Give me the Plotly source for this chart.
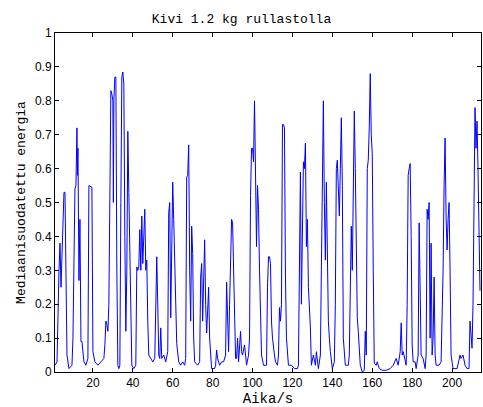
import plotly.graph_objects as go

# time (s) and median-filtered energy
t = [1, 2, 3, 3.5, 4, 4.5, 5, 5.5, 6, 6.5, 7, 8, 9.5, 10, 10.5, 11, 11.5, 12, 12.25, 12.5, 13, 13.5, 14, 14.5, 15.5, 16.5, 17.5, 18, 19.5, 20,
     21, 22.5, 24, 25.5, 26, 26.5, 27, 27.5, 28, 28.5, 29, 29.5, 30, 30.25, 30.5, 31, 31.5, 32, 32.5, 33, 33.5, 34, 34.5, 35, 35.5, 36, 36.5, 37, 37.5, 38,
     38.5, 39, 39.5, 40.5, 41.5, 42, 42.5, 43, 43.5, 44, 44.5, 45, 45.5, 46, 46.5, 47, 47.5, 48, 49, 50, 51, 51.5, 52, 52.5, 53, 53.5, 54, 54.5, 55.5, 56.5,
     57.5, 58, 58.5, 59, 59.5, 60, 60.5, 61, 61.5, 62, 63, 64, 65, 66, 66.5, 67, 67.5, 68, 68.5, 69, 69.5, 70, 70.5, 71, 72.5, 73.5, 74, 74.5, 75, 75.5,
     76, 76.5, 77, 77.5, 78, 78.5, 79, 79.5, 81, 81.5, 82, 82.5, 83.5, 84.5, 85.5, 86.5, 87, 87.5, 88, 88.5, 89, 89.5, 90, 90.5, 91, 91.5, 92, 92.5, 93,
     94, 94.5, 95, 96, 97, 98, 98.5, 99, 99.5, 100, 100.5, 101, 101.5, 102, 102.5, 103, 103.5, 104, 104.5, 105.5, 107, 107.5, 108, 108.5, 109, 109.5, 110,
     111, 111.5, 112.5, 113, 113.5, 114, 114.5, 115, 115.5, 116, 116.5, 117, 118, 119.5, 121, 122.5, 123, 123.5, 124, 124.5, 125, 125.5, 126, 126.5, 127,
     127.5, 128, 128.5, 129, 129.5, 130.5, 131.5, 132, 133, 134, 134.5, 135, 135.5, 136, 136.5, 137, 137.5, 138, 138.5, 139, 140, 141, 141.5, 142, 142.5,
     143, 143.5, 144, 144.5, 145, 145.5, 146.5, 148, 148.5, 149, 149.5, 150, 150.5, 151, 151.5, 152, 152.5, 153, 153.5, 154, 155, 156, 156.5, 157, 157.5,
     158, 158.5, 159, 159.5, 160, 160.5, 161, 162, 162.5, 163.5, 165, 167, 169, 170.5, 172, 173, 174, 174.5, 175, 175.5, 176.5, 177, 177.5, 178, 178.5,
     179, 179.5, 180, 180.5, 181.5, 182, 183, 183.5, 184, 184.5, 185.5, 186.5, 187, 187.5, 188, 188.5, 189, 189.5, 190, 190.5, 191, 191.5, 192, 193.5,
     194.5, 195.5, 196, 196.5, 197, 197.5, 198, 198.5, 199, 199.5, 200.5, 202.5, 204, 204.5, 205.5, 206.5, 207.5, 208.5, 209, 209.5, 210, 210.5, 211,
     211.5, 212, 212.5, 213, 213.5, 214]
energy = [0.02, 0.03, 0.3, 0.38, 0.25, 0.36, 0.49, 0.53, 0.53, 0.25, 0.05, 0.01, 0.02, 0.1, 0.35, 0.54, 0.55, 0.72, 0.58, 0.66, 0.27, 0.45, 0.09, 0.09, 0.03, 0.02, 0.04, 0.55, 0.545, 0.06,
          0.03, 0.02, 0.03, 0.04, 0.08, 0.15, 0.14, 0.12, 0.2, 0.55, 0.83, 0.82, 0.8, 0.5, 0.8, 0.87, 0.87, 0.3, 0.02, 0.01, 0.02, 0.5, 0.87, 0.885, 0.85, 0.4, 0.12, 0.3, 0.71, 0.53,
          0.37, 0.1, 0.02, 0.01, 0.02, 0.31, 0.3, 0.31, 0.42, 0.3, 0.46, 0.32, 0.38, 0.48, 0.3, 0.33, 0.15, 0.05, 0.04, 0.03, 0.04, 0.25, 0.34, 0.2, 0.05, 0.04, 0.13, 0.04, 0.05, 0.03,
          0.06, 0.47, 0.5, 0.16, 0.4, 0.56, 0.45, 0.3, 0.19, 0.085, 0.03, 0.02, 0.03, 0.02, 0.04, 0.575, 0.58, 0.67, 0.3, 0.15, 0.43, 0.35, 0.1, 0.03, 0.02, 0.03, 0.28, 0.32, 0.15, 0.3,
          0.39, 0.2, 0.115, 0.18, 0.25, 0.1, 0.05, 0.01, 0.01, 0.02, 0.065, 0.04, 0.02, 0.03, 0.03, 0.05, 0.265, 0.12, 0.06, 0.2, 0.38, 0.45, 0.44, 0.3, 0.08, 0.04, 0.04, 0.1, 0.03,
          0.12, 0.06, 0.05, 0.08, 0.02, 0.05, 0.1, 0.52, 0.66, 0.66, 0.62, 0.8, 0.62, 0.37, 0.55, 0.48, 0.3, 0.16, 0.05, 0.02, 0.02, 0.25, 0.34, 0.34, 0.32, 0.15, 0.1,
          0.05, 0.03, 0.02, 0.05, 0.19, 0.15, 0.2, 0.73, 0.73, 0.72, 0.28, 0.1, 0.02, 0.02, 0.01, 0.01, 0.02, 0.3, 0.59, 0.2, 0.45, 0.62, 0.6, 0.675, 0.37,
          0.45, 0.25, 0.2, 0.13, 0.02, 0.05, 0.02, 0.06, 0.01, 0.05, 0.3, 0.6, 0.8, 0.5, 0.33, 0.56, 0.3, 0.15, 0.1, 0.06, 0.01, 0.03, 0.2, 0.6, 0.625,
          0.55, 0.46, 0.6, 0.75, 0.55, 0.1, 0.02, 0.02, 0.05, 0.2, 0.43, 0.3, 0.6, 0.77, 0.6, 0.44, 0.16, 0.12, 0.05, 0.02, 0.0, 0.005, 0.12, 0.05, 0.6,
          0.625, 0.72, 0.88, 0.7, 0.645, 0.3, 0.025, 0.02, 0.03, 0.01, 0.005, 0.005, 0.01, 0.02, 0.04, 0.02, 0.06, 0.145, 0.05, 0.06, 0.03, 0.02, 0.2, 0.58, 0.6,
          0.615, 0.4, 0.08, 0.03, 0.03, 0.01, 0.05, 0.44, 0.2, 0.05, 0.04, 0.01, 0.05, 0.48, 0.45, 0.5, 0.1, 0.38, 0.05, 0.1, 0.28, 0.05, 0.02, 0.02,
          0.03, 0.3, 0.55, 0.69, 0.46, 0.36, 0.45, 0.5, 0.3, 0.05, 0.01, 0.01, 0.05, 0.04, 0.05, 0.02, 0.01, 0.01, 0.15, 0.1, 0.07, 0.2, 0.6,
          0.78, 0.66, 0.74, 0.6, 0.4, 0.24]

x_ticks = [20, 40, 60, 80, 100, 120, 140, 160, 180, 200]
y_ticks = [0, 0.1, 0.2, 0.3, 0.4, 0.5, 0.6, 0.7, 0.8, 0.9, 1]
y_tick_labels = ["0", "0.1", "0.2", "0.3", "0.4", "0.5", "0.6", "0.7", "0.8", "0.9", "1"]

fig = go.Figure()
fig.add_trace(go.Scatter(x=t, y=energy, mode="lines",
                         line=dict(color="#0000ff", width=1), showlegend=False))

mono = "Liberation Mono, Courier New, monospace"
sans = "Liberation Sans, Arial, sans-serif"

fig.update_layout(
    width=483, height=407,
    margin=dict(l=55, r=2, t=33, b=35),
    paper_bgcolor="white", plot_bgcolor="white",
    title=dict(text="Kivi 1.2 kg rullastolla", x=0.5, xanchor="center",
               y=1 - 18 / 407, yanchor="middle",
               font=dict(family=mono, size=13, color="black")),
    xaxis=dict(range=[1, 214.5], tickvals=x_ticks, ticks="inside", ticklen=4,
               tickcolor="black", showline=True, linecolor="black", linewidth=1,
               mirror="ticks", showgrid=False, zeroline=False,
               tickfont=dict(family=sans, size=12, color="black"),
               title=dict(text="Aika/s", font=dict(family=mono, size=14, color="black"),
                          standoff=3)),
    yaxis=dict(range=[0, 1], tickvals=y_ticks, ticktext=y_tick_labels, ticks="inside",
               ticklen=4, tickcolor="black", showline=True, linecolor="black",
               linewidth=1, mirror="ticks", showgrid=False, zeroline=False,
               tickfont=dict(family=sans, size=12, color="black"),
               title=dict(text="Mediaanisuodatettu energia",
                          font=dict(family=mono, size=13, color="black"), standoff=6)),
)

fig.write_html("out.html", config={"displayModeBar": False},
               post_script="document.body.style.margin='0';document.body.style.overflow='hidden';")
